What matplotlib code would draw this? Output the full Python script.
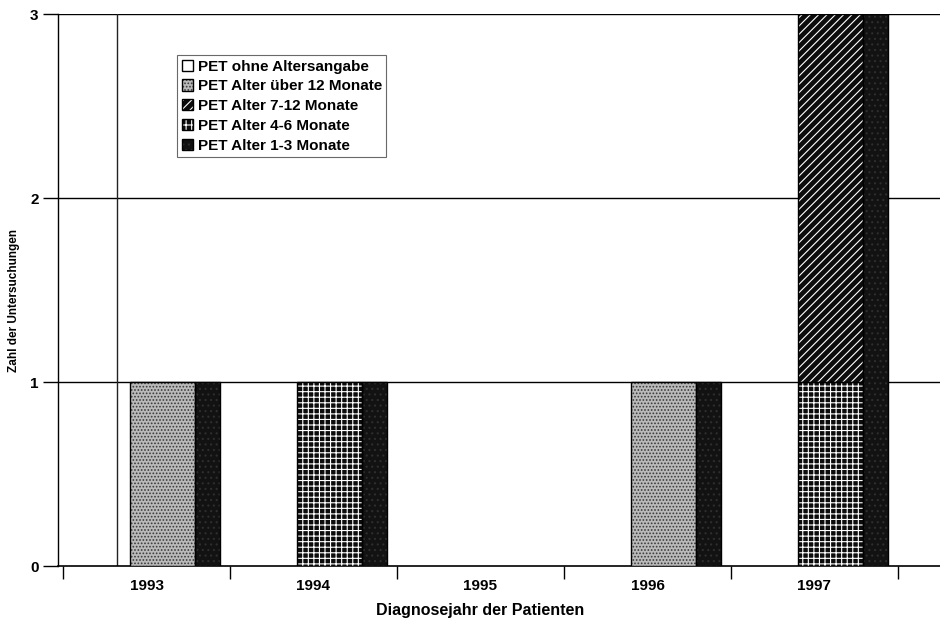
import matplotlib
matplotlib.use("Agg")
import matplotlib.pyplot as plt
from matplotlib.patches import Patch
from matplotlib.legend_handler import HandlerTuple
import numpy as np

plt.rcParams['font.family'] = ['Liberation Sans', 'DejaVu Sans']
plt.rcParams['hatch.linewidth'] = 0.8

years = ['1993', '1994', '1995', '1996', '1997']
series_names = ['PET ohne Altersangabe', 'PET Alter über 12 Monate',
                'PET Alter 7-12 Monate', 'PET Alter 4-6 Monate',
                'PET Alter 1-3 Monate']
ohne = [0, 0, 0, 0, 0]
ueber12 = [1, 0, 0, 1, 0]
m7_12 = [0, 0, 0, 0, 2]
m4_6 = [0, 1, 0, 0, 1]
yticks = [0, 1, 2, 3]

# styles (face, hatch, hatch colour)
styles = {
    'ohne': dict(fc='white', hatch=None, hc='white'),
    'ueber12': dict(fc='#bababa', hatch='.....', hc='#3a3a3a'),
    'm7_12': dict(fc='#0c0c0c', hatch='////', hc='white'),
    'm4_6': dict(fc='#0c0c0c', hatch='+++', hc='white'),
    'm1_3': dict(fc='#121212', hatch='...', hc='#2e2e2e'),
}

fig = plt.figure(figsize=(9.4, 6.2), dpi=100)
ax = fig.add_axes([58/940, 1-566/620, 1-58/940, (566-14)/620])

x = np.arange(len(years))
wide_off, wide_w = 0.095, 0.39
side_off, side_w = 0.365, 0.15

# stacking: 4-6 at bottom, then 7-12, then über 12, then ohne
stack_order = [('m4_6', m4_6), ('m7_12', m7_12), ('ueber12', ueber12), ('ohne', ohne)]
bottom = np.zeros(len(years))
for key, vals in stack_order:
    vals = np.array(vals, dtype=float)
    st = styles[key]
    mask = vals > 0
    ax.bar(x[mask] + wide_off, vals[mask], wide_w, bottom=bottom[mask],
           color=st['fc'], hatch=st['hatch'], edgecolor=st['hc'], linewidth=0, zorder=3)
    ax.bar(x[mask] + wide_off, vals[mask], wide_w, bottom=bottom[mask],
           fill=False, edgecolor='black', linewidth=1.0, zorder=4)
    bottom += vals

totals = bottom
mask = totals > 0
st = styles['m1_3']
ax.bar(x[mask] + side_off, totals[mask], side_w, color=st['fc'], hatch=st['hatch'],
       edgecolor=st['hc'], linewidth=0, zorder=3)
ax.bar(x[mask] + side_off, totals[mask], side_w, fill=False, edgecolor='black',
       linewidth=1.0, zorder=4)

ax.set_xlim(-0.53, 4.752)
ax.set_ylim(0, 3)

for yv in yticks[1:]:
    ax.axhline(yv, color='black', linewidth=1.0, zorder=1)
ax.axvline(-0.177, color='#222222', linewidth=1.0, zorder=1)

for s in ['top', 'right']:
    ax.spines[s].set_visible(False)
ax.spines['left'].set_linewidth(1.0)
ax.spines['bottom'].set_linewidth(1.2)

ax.set_yticks(yticks)
ax.set_yticklabels([str(v) for v in yticks], fontsize=11, fontweight='bold')
ax.tick_params(axis='y', length=11, width=1.0, pad=3)

ax.set_xticks(np.arange(len(years) + 1) - 0.5)
ax.set_xticklabels([])
ax.tick_params(axis='x', which='major', length=9, width=1.0, direction='out')
ax.set_xticks(x, minor=True)
ax.set_xticklabels(years, minor=True, fontsize=11, fontweight='bold')
ax.tick_params(axis='x', which='minor', length=0, pad=9)

fig.text(480/940, 1-611/620, 'Diagnosejahr der Patienten', ha='center', va='center',
         fontsize=11.5, fontweight='bold')
fig.text(14/940, 1-300/620, 'Zahl der Untersuchungen', ha='center', va='center',
         rotation=90, fontsize=8.5, fontweight='bold')

handles = []
for key, name in zip(['ohne', 'ueber12', 'm7_12', 'm4_6', 'm1_3'], series_names):
    st = styles[key]
    fillp = Patch(facecolor=st['fc'], hatch=st['hatch'], edgecolor=st['hc'], linewidth=0)
    outline = Patch(fill=False, edgecolor='black', linewidth=1.0)
    handles.append((fillp, outline))
leg = ax.legend(handles=handles, labels=series_names, loc='upper left',
                handler_map={tuple: HandlerTuple(ndivide=1, pad=0)},
                bbox_to_anchor=((177-58)/882, (566-55)/552),
                prop={'weight': 'bold', 'size': 11},
                frameon=True, fancybox=False, edgecolor='#444444',
                handlelength=0.75, handleheight=0.75, handletextpad=0.3,
                labelspacing=0.38, borderpad=0.3, borderaxespad=0)
leg.get_frame().set_linewidth(0.8)
leg.set_zorder(5)

fig.savefig('out.png', dpi=100)
